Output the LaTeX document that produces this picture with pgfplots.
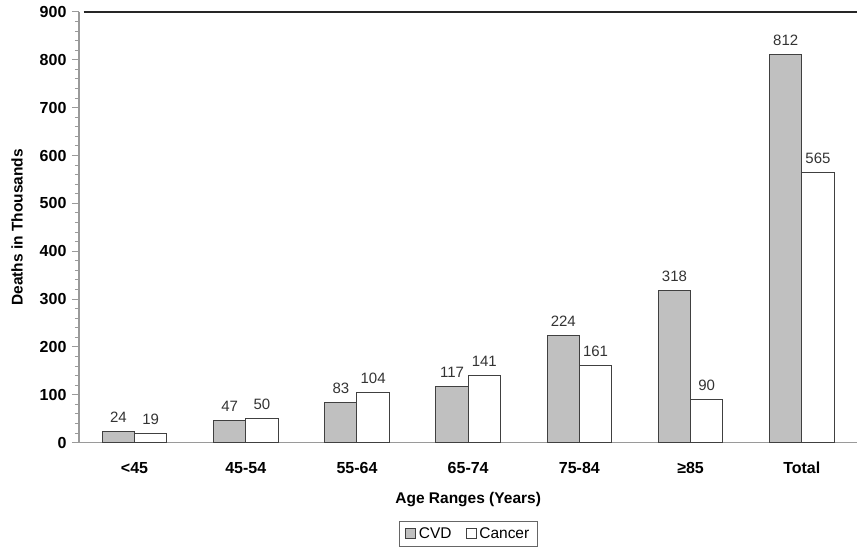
\documentclass[border=0pt]{standalone}
\usepackage{pgfplots}
\pgfplotsset{compat=1.18}
\usepackage{fontspec}
\setmainfont{Liberation Sans}
\definecolor{barfill}{HTML}{C0C0C0}
\definecolor{baredge}{HTML}{404040}
\definecolor{axgray}{HTML}{9A9A9A}

\begin{document}
\begin{tikzpicture}
\begin{axis}[
    scale only axis,
    width=779pt, height=431pt,
    xmin=-0.5, xmax=6.5,
    ymin=0, ymax=900,
    ytick={0,100,...,900},
    minor y tick num=4,
    xtick={0,...,6},
    xticklabels={{<45},{45-54},{55-64},{65-74},{75-84},{≥85},{Total}},
    extra x ticks={0.5,1.5,...,5.5},
    extra x tick labels={},
    extra x tick style={major tick length=5pt},
    axis x line*=bottom,
    axis y line*=left,
    axis line style={axgray, line width=1.2pt},
    tick align=outside,
    major tick length=7pt,
    minor tick length=4pt,
    every tick/.style={axgray, line width=1pt},
    x tick style={draw=none},
    extra x tick style={tick style={axgray, line width=1pt}},
    /pgf/number format/assume math mode=true,
    ticklabel style={font=\fontsize{16}{19}\selectfont\bfseries},
    yticklabel style={xshift=-2pt},
    xticklabel style={yshift=-9pt},
    xlabel={Age Ranges (Years)},
    ylabel={Deaths in Thousands},
    xlabel shift=-1pt,
    ylabel shift=10pt,
    xlabel style={font=\fontsize{15.5}{18}\selectfont\bfseries},
    ylabel style={font=\fontsize{15.5}{18}\selectfont\bfseries},
    ybar, bar width=0.29,
    nodes near coords,
    every node near coord/.append style={font=\fontsize{15}{18}\selectfont, text=black!80, yshift=5pt},
    legend style={at={(0.5,-0.181)}, anchor=north, legend columns=2, draw=black!60, line width=0.8pt,
        font=\fontsize{15.5}{18}\selectfont, inner xsep=6pt, inner ysep=4.5pt,
        /tikz/every odd column/.append style={column sep=1pt},
        /tikz/every even column/.append style={column sep=12pt}},
    legend image code/.code={\draw[#1, line width=0.8pt] (2pt,-5pt) rectangle (12pt,5pt);},
]
\addplot[fill=barfill, draw=baredge, line width=1pt, bar shift=-0.145] coordinates {
    (0,24) (1,47) (2,83) (3,117) (4,224) (5,318) (6,812)};
\addplot[fill=white, draw=baredge, line width=1pt, bar shift=0.145] coordinates {
    (0,19) (1,50) (2,104) (3,141) (4,161) (5,90) (6,565)};
\legend{CVD, Cancer}
\draw[black!85, line width=1.2pt] (rel axis cs:0.006,1) -- (rel axis cs:1,1);
\end{axis}
\path ([xshift=-79pt,yshift=-108pt]current axis.south west) rectangle ([yshift=12pt]current axis.north east);
\end{tikzpicture}
\end{document}
